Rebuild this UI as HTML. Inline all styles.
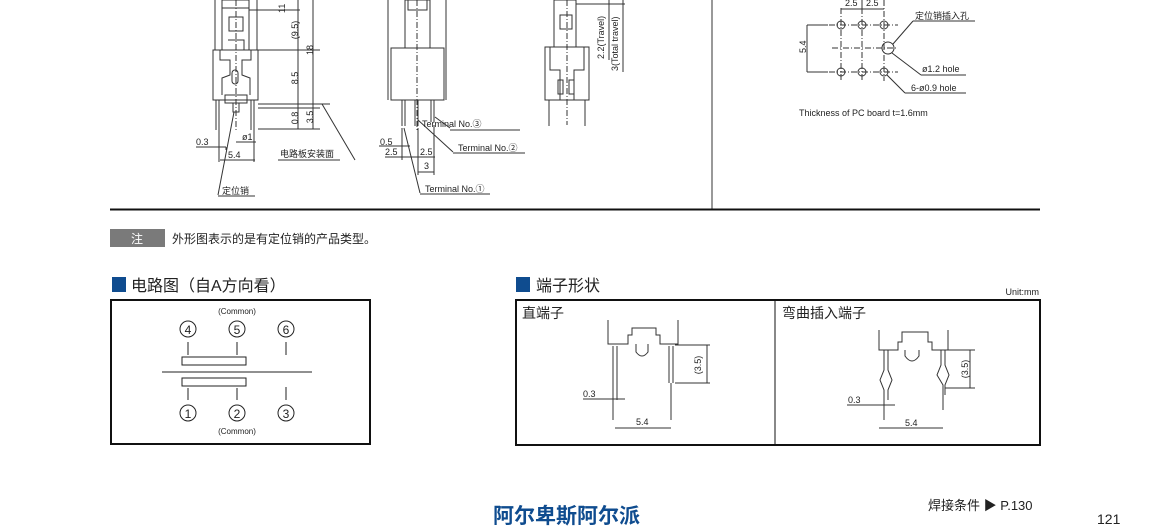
<!DOCTYPE html>
<html><head><meta charset="utf-8"><style>
html,body{margin:0;padding:0;background:#fff;}
svg{display:block;}
text{font-family:"Liberation Sans","Noto Sans CJK SC",sans-serif;fill:#222;}
</style></head><body>
<svg width="1150" height="529" viewBox="0 0 1150 529" xmlns="http://www.w3.org/2000/svg">
<g stroke="#333" stroke-width="1" fill="none">
<!-- Left component -->
<line x1="215" y1="0" x2="215" y2="50"/><line x1="257" y1="0" x2="257" y2="50"/>
<rect x="222" y="0" width="27" height="8"/>
<rect x="222" y="8" width="27" height="42"/>
<rect x="229" y="17" width="14" height="14"/>
<path d="M213 50 H258 V100 H213 Z"/>
<path d="M220 50 V60 H230 V75 L222 78 V95 M251 50 V60 H242 V75 L250 78 V95"/>
<path d="M228 40 H244 V50"/>
<rect x="232" y="70" width="6" height="14" rx="3"/>
<path d="M225 95 H247 V103 H225 Z"/>
<line x1="216" y1="100" x2="216" y2="130"/><line x1="219" y1="100" x2="219" y2="130"/>
<line x1="251" y1="100" x2="251" y2="130"/><line x1="254" y1="100" x2="254" y2="130"/>
<path d="M233 103 V112 H239 V103"/>
<line x1="236" y1="0" x2="236" y2="130" stroke-dasharray="6,2,1,2"/>
<!-- dims left -->
<line x1="249" y1="10" x2="300" y2="10"/><line x1="249" y1="50" x2="320" y2="50"/>
<line x1="258" y1="104" x2="330" y2="104"/><line x1="258" y1="108" x2="320" y2="108"/>
<line x1="258" y1="129" x2="320" y2="129"/>
<line x1="298" y1="0" x2="298" y2="129"/><line x1="313" y1="0" x2="313" y2="129"/>
<line x1="322" y1="104" x2="355" y2="160"/>
<line x1="196" y1="147" x2="226" y2="147"/><line x1="226" y1="147" x2="226" y2="150"/>
<line x1="220" y1="160" x2="255" y2="160"/>
<line x1="219" y1="130" x2="219" y2="162"/><line x1="254" y1="130" x2="254" y2="162"/>
<line x1="234" y1="112" x2="218" y2="195"/><line x1="218" y1="196" x2="255" y2="196"/>
<line x1="278" y1="160" x2="340" y2="160"/>
<line x1="236" y1="142" x2="256" y2="142"/>
<!-- Middle component -->
<line x1="388" y1="0" x2="388" y2="100"/><line x1="446" y1="0" x2="446" y2="100"/>
<rect x="405" y="0" width="25" height="48"/><rect x="408" y="0" width="19" height="10"/>
<path d="M391 48 H444 V100 H391 Z"/>
<line x1="402" y1="100" x2="402" y2="126"/><line x1="405" y1="100" x2="405" y2="126"/>
<line x1="415" y1="100" x2="415" y2="126"/><line x1="418" y1="100" x2="418" y2="126"/>
<line x1="431" y1="100" x2="431" y2="122"/><line x1="434" y1="100" x2="434" y2="122"/>
<line x1="417" y1="0" x2="417" y2="130" stroke-dasharray="6,2,1,2"/>
<line x1="402" y1="128" x2="402" y2="160"/><line x1="418" y1="128" x2="418" y2="175"/>
<line x1="434" y1="125" x2="434" y2="175"/>
<line x1="379" y1="146" x2="410" y2="146"/><line x1="385" y1="157" x2="435" y2="157"/>
<line x1="418" y1="172" x2="434" y2="172"/>
<line x1="435" y1="117" x2="450" y2="128"/><line x1="450" y1="130" x2="520" y2="130"/>
<line x1="418" y1="120" x2="453" y2="152"/><line x1="453" y1="153" x2="525" y2="153"/>
<line x1="404" y1="128" x2="420" y2="193"/><line x1="420" y1="194" x2="490" y2="194"/>
<!-- Right component -->
<rect x="554" y="0" width="22" height="47"/><rect x="560" y="15" width="12" height="14"/>
<path d="M545 47 H589 V100 H545 Z"/>
<path d="M550 47 V70 H560 V100 M584 47 V70 H574 V100"/>
<rect x="558" y="80" width="5" height="14"/><rect x="569" y="80" width="5" height="14"/>
<line x1="549" y1="100" x2="549" y2="126"/><line x1="585" y1="100" x2="585" y2="126"/>
<line x1="567" y1="0" x2="567" y2="125" stroke-dasharray="6,2,1,2"/>
<line x1="576" y1="4" x2="625" y2="4"/>
<line x1="609" y1="0" x2="609" y2="60"/><line x1="623" y1="0" x2="623" y2="72"/>
<!-- divider -->
<line x1="712" y1="0" x2="712" y2="209"/>
<!-- PCB holes -->
<line x1="841" y1="8" x2="841" y2="81" stroke-dasharray="6,2,1,2"/>
<line x1="862" y1="8" x2="862" y2="81" stroke-dasharray="6,2,1,2"/>
<line x1="884" y1="0" x2="884" y2="81" stroke-dasharray="6,2,1,2"/>
<line x1="829" y1="25" x2="898" y2="25" stroke-dasharray="6,2,1,2"/>
<line x1="832" y1="48" x2="898" y2="48" stroke-dasharray="6,2,1,2"/>
<line x1="829" y1="72" x2="898" y2="72" stroke-dasharray="6,2,1,2"/>
<circle cx="841" cy="25" r="4"/><circle cx="862" cy="25" r="4"/><circle cx="884" cy="25" r="4"/>
<circle cx="841" cy="72" r="4"/><circle cx="862" cy="72" r="4"/><circle cx="884" cy="72" r="4"/>
<circle cx="888" cy="48" r="6"/>
<line x1="841" y1="9" x2="884" y2="9"/><line x1="862" y1="0" x2="862" y2="9"/>
<line x1="807" y1="25" x2="828" y2="25"/><line x1="807" y1="72" x2="828" y2="72"/>
<line x1="807" y1="25" x2="807" y2="72"/>
<line x1="893" y1="44" x2="913" y2="21"/><line x1="913" y1="21" x2="975" y2="21"/>
<line x1="892" y1="53" x2="921" y2="75"/><line x1="921" y1="75" x2="966" y2="75"/>
<line x1="887" y1="75" x2="905" y2="93"/><line x1="905" y1="93" x2="966" y2="93"/>
</g>
<g font-size="9">
<text transform="translate(285,13) rotate(-90)">11</text>
<text transform="translate(298,30) rotate(-90)" text-anchor="middle">(9.5)</text>
<text transform="translate(313,50) rotate(-90)" text-anchor="middle">18</text>
<text transform="translate(298,78) rotate(-90)" text-anchor="middle">8.5</text>
<text transform="translate(298,118) rotate(-90)" text-anchor="middle">0.8</text>
<text transform="translate(313,117) rotate(-90)" text-anchor="middle">3.5</text>
<text x="196" y="145">0.3</text><text x="228" y="158">5.4</text><text x="242" y="140">ø1</text>
<text x="280" y="157">电路板安装面</text>
<text x="222" y="194">定位销</text>
<text x="380" y="145">0.5</text><text x="385" y="155">2.5</text><text x="420" y="155">2.5</text><text x="424" y="169">3</text>
<text x="422" y="127">Terminal No.③</text>
<text x="458" y="151">Terminal No.②</text>
<text x="425" y="192">Terminal No.①</text>
<text transform="translate(604,59) rotate(-90)">2.2(Travel)</text>
<text transform="translate(618,71) rotate(-90)">3(Total travel)</text>
<text x="845" y="6">2.5</text><text x="866" y="6">2.5</text>
<text transform="translate(806,53) rotate(-90)">5.4</text>
<text x="915" y="19">定位销插入孔</text>
<text x="922" y="72">ø1.2 hole</text>
<text x="911" y="91">6-ø0.9 hole</text>
<text x="799" y="116">Thickness of PC board  t=1.6mm</text>
</g>
<line x1="110" y1="209.5" x2="1040" y2="209.5" stroke="#111" stroke-width="2"/>
<!-- note -->
<rect x="110" y="229" width="55" height="18" fill="#7a7a7a"/>
<text x="137" y="243" font-size="12" fill="#fff" style="fill:#fff" text-anchor="middle">注</text>
<text x="172" y="243" font-size="12">外形图表示的是有定位销的产品类型。</text>
<!-- circuit heading -->
<rect x="112" y="277" width="14" height="15" fill="#0f4c8f"/>
<text x="131" y="291" font-size="16">电路图（自A方向看）</text>
<rect x="111" y="300" width="259" height="144" fill="none" stroke="#111" stroke-width="2"/>
<g font-size="8" text-anchor="middle"><text x="237" y="314">(Common)</text><text x="237" y="434">(Common)</text></g>
<g stroke="#222" fill="none">
<circle cx="188" cy="329" r="8"/><circle cx="237" cy="329" r="8"/><circle cx="286" cy="329" r="8"/>
<circle cx="188" cy="413" r="8"/><circle cx="237" cy="413" r="8"/><circle cx="286" cy="413" r="8"/>
<rect x="182" y="357" width="64" height="8"/><rect x="182" y="378" width="64" height="8"/>
<line x1="162" y1="372" x2="312" y2="372"/>
<line x1="188" y1="342" x2="188" y2="355"/><line x1="237" y1="342" x2="237" y2="355"/><line x1="286" y1="342" x2="286" y2="355"/>
<line x1="188" y1="388" x2="188" y2="400"/><line x1="237" y1="388" x2="237" y2="400"/><line x1="286" y1="387" x2="286" y2="400"/>
</g>
<g font-size="12" text-anchor="middle">
<text x="188" y="334">4</text><text x="237" y="334">5</text><text x="286" y="334">6</text>
<text x="188" y="418">1</text><text x="237" y="418">2</text><text x="286" y="418">3</text>
</g>
<!-- terminal shape -->
<rect x="516" y="277" width="14" height="15" fill="#0f4c8f"/>
<text x="536" y="291" font-size="16">端子形状</text>
<text x="1039" y="295" font-size="9" text-anchor="end">Unit:mm</text>
<rect x="516" y="300" width="524" height="145" fill="none" stroke="#111" stroke-width="2"/>
<line x1="775" y1="300" x2="775" y2="445" stroke="#111" stroke-width="1"/>
<text x="522" y="318" font-size="14">直端子</text>
<text x="782" y="318" font-size="14">弯曲插入端子</text>
<g stroke="#333" fill="none">
<path d="M608 320 V344 H628 V335 H632 V328 H656 V335 H660 V344 H678 V320"/>
<path d="M636 344 V352 Q642 360 648 352 V344"/>
<line x1="613" y1="346" x2="613" y2="420"/><line x1="617" y1="346" x2="617" y2="400"/>
<line x1="669" y1="346" x2="669" y2="383"/><line x1="673" y1="346" x2="673" y2="383"/>
<line x1="671" y1="383" x2="671" y2="420"/>
<line x1="675" y1="345" x2="710" y2="345"/><line x1="675" y1="383" x2="710" y2="383"/>
<line x1="707" y1="345" x2="707" y2="383"/>
<line x1="583" y1="399" x2="625" y2="399"/>
<line x1="615" y1="428" x2="671" y2="428"/>
<path d="M879 330 V350 H898 V342 H902 V332 H928 V342 H932 V350 H948 V330"/>
<path d="M905 350 V356 Q912 366 919 356 V350"/>
<path d="M884 350 V370 L880 380 L884 390 V420 M888 350 V370 L892 380 L888 390 V400"/>
<path d="M941 350 V365 L937 375 L943 385 V410 M945 350 V365 L949 375 L945 385 V395"/>
<line x1="945" y1="350" x2="975" y2="350"/><line x1="945" y1="388" x2="975" y2="388"/>
<line x1="970" y1="350" x2="970" y2="388"/>
<line x1="847" y1="405" x2="895" y2="405"/>
<line x1="879" y1="428" x2="943" y2="428"/>
</g>
<g font-size="9">
<text transform="translate(701,365) rotate(-90)" text-anchor="middle">(3.5)</text>
<text x="583" y="397">0.3</text><text x="636" y="425">5.4</text>
<text transform="translate(968,369) rotate(-90)" text-anchor="middle">(3.5)</text>
<text x="848" y="403">0.3</text><text x="905" y="426">5.4</text>
</g>
<!-- footer -->
<text x="493" y="523" font-size="21" font-weight="bold" style="fill:#0f4c8f">阿尔卑斯阿尔派</text>
<text x="928" y="510" font-size="13">焊接条件 ▶ P.130</text>
<text x="1097" y="524" font-size="14">121</text>
</svg>
</body></html>
